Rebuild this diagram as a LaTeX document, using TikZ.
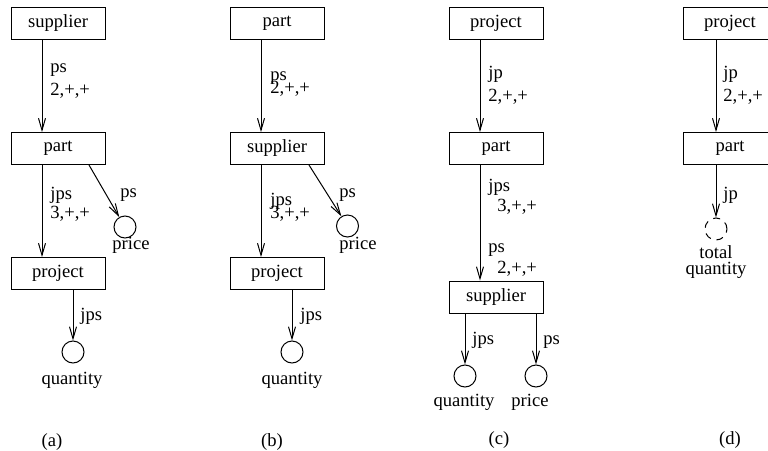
\documentclass[tikz,border=0pt]{standalone}
\usepackage{fontspec}
\setmainfont{Liberation Serif}
\usepackage{tikz}
\usetikzlibrary{arrows.meta}
\tikzset{
  ent/.style={draw, line width=0.5pt, minimum width=47pt, minimum height=16pt, inner sep=0pt},
  val/.style={draw, circle, line width=0.5pt, minimum size=11pt, inner sep=0pt},
  lnk/.style={line width=0.5pt, -{Straight Barb[length=6pt, width=3.5pt]}},
  lab/.style={anchor=base west, inner sep=0pt},
  vallab/.style={anchor=base, inner sep=0pt}
}

\begin{document}
\begin{tikzpicture}[x=0.5pt, y=-0.5pt, font=\fontsize{9.3}{10}\selectfont]
  \useasboundingbox (0,0) rectangle (768,451);
  % (a)
  \node[ent] (supA) at (58,23) {supplier};
  \node[ent] (partA) at (58,148.5) {part};
  \node[ent] (projA) at (58,273.5) {project};
  \node[val] (priceA) at (125,227) {};
  \node[val] (qtyA) at (73,352) {};
  \draw[lnk] ([xshift=-8pt]supA.south) -- ([xshift=-8pt]partA.north);
  \draw[lnk] ([xshift=-8pt]partA.south) -- ([xshift=-8pt]projA.north);
  \draw[lnk] ([xshift=15.5pt]partA.south) -- (priceA);
  \draw[lnk] ([xshift=7.5pt]projA.south) -- (qtyA);
  \node[lab] (psA) at (50,72) {ps};
  \node[lab] (cardA) at (50,95) {2,+,+};
  \node[lab] (jpsA) at (50,199) {jps};
  \node[lab] (cardA2) at (50,218) {3,+,+};
  \node[lab] (psA2) at (120,197) {ps};
  \node[vallab] (priceAt) at (131,249) {price};
  \node[lab] (jpsA2) at (80,320) {jps};
  \node[vallab] (qtyAt) at (72,384) {quantity};
  \node[vallab] (capA) at (52,446) {(a)};
  % (b)
  \node[ent] (partB) at (277,23) {part};
  \node[ent] (supB) at (277,148.5) {supplier};
  \node[ent] (projB) at (277,273.5) {project};
  \node[val] (priceB) at (347.5,226) {};
  \node[val] (qtyB) at (292,352) {};
  \draw[lnk] ([xshift=-8pt]partB.south) -- ([xshift=-8pt]supB.north);
  \draw[lnk] ([xshift=-8pt]supB.south) -- ([xshift=-8pt]projB.north);
  \draw[lnk] ([xshift=16pt]supB.south) -- (priceB);
  \draw[lnk] ([xshift=7.5pt]projB.south) -- (qtyB);
  \node[lab] (psB) at (270,80) {ps};
  \node[lab] (cardB) at (270,93) {2,+,+};
  \node[lab] (jpsB) at (270,205) {jps};
  \node[lab] (cardB2) at (270,218) {3,+,+};
  \node[lab] (psB2) at (339,197) {ps};
  \node[vallab] (priceBt) at (358,249) {price};
  \node[lab] (jpsB2) at (300,320) {jps};
  \node[vallab] (qtyBt) at (292,384) {quantity};
  \node[vallab] (capB) at (272,446) {(b)};
  % (c)
  \node[ent] (projC) at (496,23) {project};
  \node[ent] (partC) at (496,148.5) {part};
  \node[ent] (supC) at (496,297) {supplier};
  \node[val] (qtyC) at (465,376) {};
  \node[val] (priceC) at (536,376) {};
  \draw[lnk] ([xshift=-8pt]projC.south) -- ([xshift=-8pt]partC.north);
  \draw[lnk] ([xshift=-8pt]partC.south) -- ([xshift=-8pt]supC.north);
  \draw[lnk] ([xshift=-15.5pt]supC.south) -- (qtyC);
  \draw[lnk] ([xshift=20pt]supC.south) -- (priceC);
  \node[lab] (jpC) at (488,78) {jp};
  \node[lab] (cardC) at (488,101) {2,+,+};
  \node[lab] (jpsC) at (488,191) {jps};
  \node[lab] (cardC2) at (497,211) {3,+,+};
  \node[lab] (psC) at (488,252) {ps};
  \node[lab] (cardC3) at (497,273) {2,+,+};
  \node[lab] (jpsC2) at (472,344) {jps};
  \node[lab] (psC2) at (543,344) {ps};
  \node[vallab] (qtyCt) at (464,406) {quantity};
  \node[vallab] (priceCt) at (530,406) {price};
  \node[vallab] (capC) at (499,444) {(c)};
  % (d)
  \node[ent] (projD) at (730,23) {project};
  \node[ent] (partD) at (730,148.5) {part};
  \node[val, dash pattern=on 3.5pt off 3pt] (totD) at (716,229) {};
  \draw[lnk] ([xshift=-7pt]projD.south) -- ([xshift=-7pt]partD.north);
  \draw[lnk] ([xshift=-7pt]partD.south) -- (totD);
  \node[lab] (jpD) at (723,78) {jp};
  \node[lab] (cardD) at (723,101) {2,+,+};
  \node[lab] (jpD2) at (723,199) {jp};
  \node[anchor=north, inner sep=0pt, align=center, font=\fontsize{9.3}{8}\selectfont] (totDt) at (716,245) {total\\quantity};
  \node[vallab] (capD) at (730,444) {(d)};
\end{tikzpicture}
\end{document}
